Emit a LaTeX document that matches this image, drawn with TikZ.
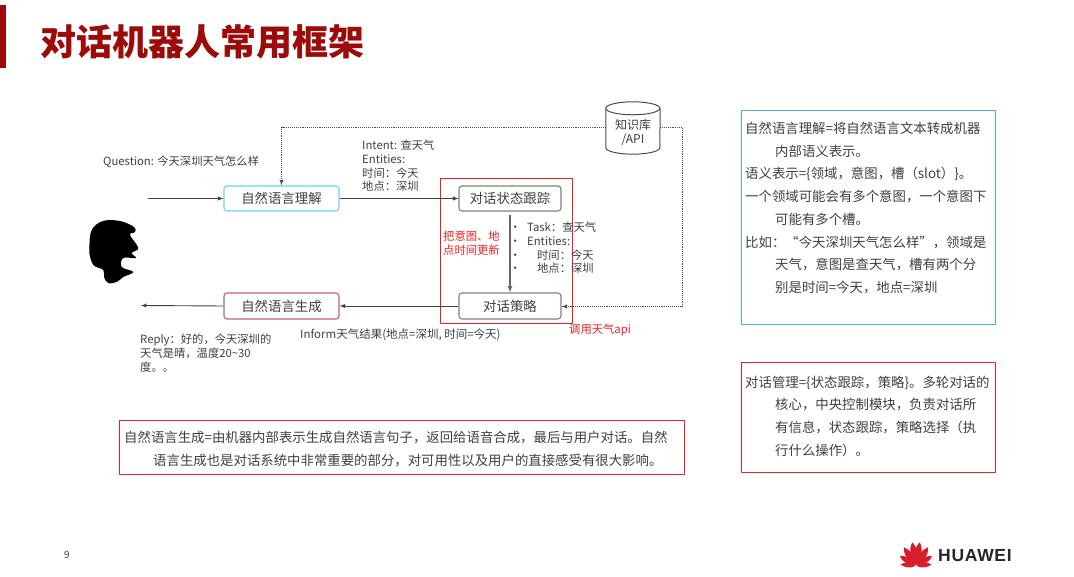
\documentclass[tikz,border=0pt]{standalone}
\usepackage{fontspec}
\setmainfont{Noto Sans CJK SC}
\newfontfamily\logofont[LetterSpace=4]{Liberation Sans}
\newcommand{\fcomma}{\char"FF0C\relax}
\newcommand{\fcolon}{\char"FF1A\relax}
\newcommand{\fopen}{\char"FF08\relax}
\newcommand{\fclose}{\char"FF09\relax}
\definecolor{titlered}{HTML}{9C0A0A}
\definecolor{inktext}{HTML}{3F3F3F}
\definecolor{nlublue}{HTML}{6FCFF5}
\definecolor{nlgred}{HTML}{C0646A}
\definecolor{stepgrey}{HTML}{7F7F7F}
\definecolor{markred}{HTML}{F02020}
\definecolor{infoblue}{HTML}{4FA8E0}
\definecolor{petalred}{HTML}{D81E2C}
\tikzset{
  flowbox/.style={draw=stepgrey,rounded corners=3bp,line width=1.1bp,minimum width=102bp,minimum height=25bp,inner sep=0bp,font=\fontsize{13.4bp}{16bp}\selectfont,text=inktext},
  smalltext/.style={inner sep=0bp,anchor=west,align=left,text=inktext,font=\fontsize{11.3bp}{13.7bp}\selectfont},
  infotext/.style={inner sep=0bp,anchor=north west,align=left,text=inktext,font=\fontsize{13.4bp}{22.7bp}\selectfont},
  infobox/.style={draw=markred,line width=0.9bp,inner sep=0bp},
  flowline/.style={draw=black!75,line width=0.9bp,->},
  dashline/.style={draw=black!70,line width=0.9bp,densely dotted,->},
}
\begin{document}
\begin{tikzpicture}[>=latex,line join=bevel,]
\useasboundingbox (0bp,0bp) rectangle (1074bp,577bp);
%%
\fill [titlered] (0bp,509bp) rectangle (6bp,572bp);
\node (node_title) at (40bp,535bp) [anchor=west,inner sep=0bp,text=titlered,font=\fontsize{36bp}{40bp}\selectfont\bfseries] {对话机器人常用框架};
%
\node (node_nlu) at (281.5bp,378.5bp) [flowbox,draw=nlublue,minimum width=115bp] {自然语言理解};
\node (node_nlg) at (281.5bp,271bp) [flowbox,draw=nlgred,minimum width=115bp,minimum height=26bp] {自然语言生成};
\node (node_dst) at (510bp,378.5bp) [flowbox] {对话状态跟踪};
\node (node_policy) at (510bp,271bp) [flowbox,minimum height=26bp] {对话策略};
\node (node_range) at (506bp,326.5bp) [infobox,minimum width=132bp,minimum height=145bp] {};
\node (node_kb) at (633bp,449bp) [minimum width=54bp,minimum height=52bp,inner sep=0bp,align=center,text=inktext,font=\fontsize{12bp}{14bp}\selectfont] {\rule{0pt}{20bp}知识库\\/API};
\draw [draw=black!70,line width=1bp] (node_kb.north west) ++(0bp,-6.5bp) arc [start angle=180,end angle=540,x radius=27bp,y radius=6.5bp] -- ++(0bp,0bp);
\draw [draw=black!70,line width=1bp] (node_kb.north west) ++(0bp,-6.5bp) -- ([yshift=6.5bp]node_kb.south west) arc [start angle=180,end angle=360,x radius=27bp,y radius=6.5bp] -- ([yshift=-6.5bp]node_kb.north east);
%
\coordinate (node_in) at (148bp,378.5bp);
\coordinate (node_out) at (141bp,271.5bp);
\coordinate (node_up) at (281.5bp,450bp);
\coordinate (node_corner) at (682bp,450bp);
\coordinate (node_side) at (682bp,270.5bp);
\draw [flowline] (node_in) -- (node_nlu);
\draw [flowline] (node_nlu) -- (node_dst);
\draw [flowline,line width=1.2bp,draw=black!60,shorten <=3bp] (node_dst) -- (node_policy);
\draw [flowline] (node_policy) -- (node_nlg);
\draw [flowline] (node_nlg.west) -- (node_out);
\draw [dashline] (node_kb.west |- node_up) -- (node_up) -- (node_nlu);
\draw [dashline] (node_kb.east |- node_corner) -- (node_corner) -- (node_side) -- (node_policy.east |- node_side);
%
\node (node_question) at (103bp,415bp) [smalltext] {Question: 今天深圳天气怎么样};
\node (node_intent) at (362bp,411bp) [smalltext] {Intent: 查天气\\Entities:\\时间\fcolon 今天\\地点\fcolon 深圳};
\node (node_task) at (509.5bp,329bp) [smalltext] {\makebox[17.5bp][l]{•}Task\fcolon 查天气\\\makebox[17.5bp][l]{•}Entities:\\\makebox[27.5bp][l]{•}时间\fcolon 今天\\\makebox[27.5bp][l]{•}地点\fcolon 深圳};
\node (node_update) at (443bp,333.5bp) [smalltext,text=markred] {把意图、地\\点时间更新};
\node (node_call) at (569bp,247bp) [smalltext,text=markred] {调用天气api};
\node (node_inform) at (300bp,242bp) [smalltext,font=\fontsize{11.5bp}{13.7bp}\selectfont] {Inform天气结果(地点=深圳, 时间=今天)};
\node (node_reply) at (140bp,224bp) [smalltext] {Reply\fcolon 好的\fcomma 今天深圳的\\天气是晴\fcomma 温度20\textasciitilde30\\度。。};
%
\fill plot [smooth cycle,tension=0.6] coordinates {(89.3bp,330bp) (91.7bp,347bp) (103bp,356bp) (120bp,356bp) (134bp,350bp) (135bp,345bp) (130bp,342bp) (138.3bp,329bp) (131.7bp,324bp) (136bp,319bp) (123.3bp,319bp) (121.7bp,310bp) (133.3bp,305bp) (123.3bp,300bp) (116.7bp,295bp) (108bp,294bp) (104bp,300bp) (103.3bp,307bp) (93.3bp,312bp) (89.3bp,324bp)};
%
\node (node_text_a) at (745bp,455bp) [infotext] {自然语言理解=将自然语言文本转成机器\\\hspace*{30bp}内部语义表示。\\语义表示=\{领域\fcomma 意图\fcomma 槽\fopen slot\fclose\}。\\一个领域可能会有多个意图\fcomma 一个意图下\\\hspace*{30bp}可能有多个槽。\\比如\fcolon “今天深圳天气怎么样”\fcomma 领域是\\\hspace*{30bp}天气\fcomma 意图是查天气\fcomma 槽有两个分\\\hspace*{30bp}别是时间=今天\fcomma 地点=深圳};
\node (node_text_b) at (745bp,201.5bp) [infotext] {对话管理=\{状态跟踪\fcomma 策略\}。多轮对话的\\\hspace*{30bp}核心\fcomma 中央控制模块\fcomma 负责对话所\\\hspace*{30bp}有信息\fcomma 状态跟踪\fcomma 策略选择\fopen 执\\\hspace*{30bp}行什么操作\fclose。};
\node (node_text_c) at (124bp,146bp) [infotext] {自然语言生成=由机器内部表示生成自然语言句子\fcomma 返回给语音合成\fcomma 最后与用户对话。自然\\\hspace*{29bp}语言生成也是对话系统中非常重要的部分\fcomma 对可用性以及用户的直接感受有很大影响。};
%
\node (node_page) at (67bp,22bp) [inner sep=0bp,text=inktext,font=\fontsize{10bp}{12bp}\selectfont] {9};
\foreach \ang/\len in {-84/0.65,-58/0.8,-33/0.93,-9/1,9/1,33/0.93,58/0.8,84/0.65} {
  \fill [petalred,shift={(916bp,11bp)},rotate=\ang,scale=\len] (0bp,1bp) .. controls (-5bp,8bp) and (-4.5bp,18bp) .. (0bp,24bp) .. controls (4.5bp,18bp) and (5bp,8bp) .. (0bp,1bp);
}
\node (node_logo) at (938bp,21bp) [anchor=west,inner sep=0bp,text=black!85,font=\fontsize{17.5bp}{20bp}\logofont\bfseries\selectfont] {HUAWEI};
%
\node (node_box_c) at (401.5bp,130bp) [infobox,minimum width=565bp,minimum height=54bp] {};
\node (node_box_a) at (868.5bp,359.5bp) [draw=infoblue,line width=0.8bp,inner sep=0bp,minimum width=254bp,minimum height=214bp] {};
\node (node_box_b) at (868.5bp,159.5bp) [draw=markred,line width=0.8bp,inner sep=0bp,minimum width=254bp,minimum height=110bp] {};
%
\end{tikzpicture}
\end{document}
